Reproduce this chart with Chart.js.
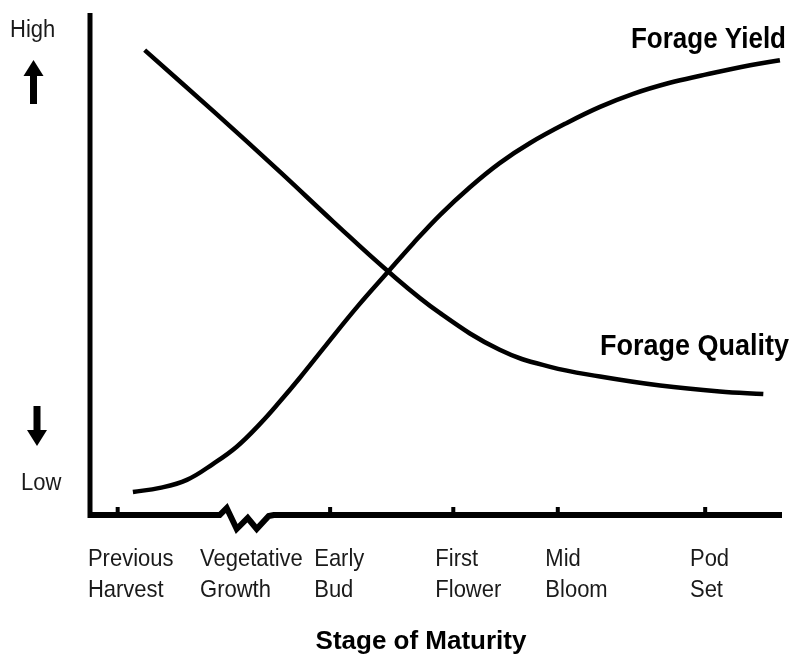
<!DOCTYPE html>
<html>
<head>
<meta charset="utf-8">
<script src="https://cdn.jsdelivr.net/npm/chart.js@4.4.0/dist/chart.umd.min.js"></script>
<style>
  html, body { margin: 0; padding: 0; background: #fff; }
  #wrap { width: 792px; height: 658px; }
</style>
</head>
<body>
<div id="wrap"><canvas id="chart"></canvas></div>
<script>
// values on a 0-100 scale for both axes (relative stage / relative level)
const yieldX = [6.2, 10.1, 14.0, 17.8, 21.2, 24.6, 27.5, 30.3, 34.2, 38.7, 43.1, 46.7, 50.6, 54.9, 59.2, 63.6, 68.9, 73.7, 78.5, 83.8, 88.2, 95.4, 99.7];
const yieldY = [4.6, 5.4, 7.0, 10.2, 13.6, 18.2, 22.7, 27.3, 34.0, 41.6, 48.5, 54.1, 59.8, 65.3, 70.1, 74.1, 78.1, 81.3, 83.9, 86.1, 87.5, 89.6, 90.6];

const qualityX = [7.9, 18.1, 27.5, 35.1, 43.1, 50.6, 59.2, 66.5, 73.7, 82.4, 91.0, 97.3];
const qualityY = [92.6, 80.1, 68.3, 58.5, 48.5, 40.2, 32.9, 29.5, 27.6, 25.8, 24.6, 24.1];

// stage labels, tick marks and the axis break
const stageLabels = [["Previous", "Harvest"], ["Vegetative", "Growth"], ["Early", "Bud"], ["First", "Flower"], ["Mid", "Bloom"], ["Pod", "Set"]];
const stageLabelX = [-0.3, 15.9, 32.4, 49.9, 65.8, 86.7];
const stageTicks = [4.0, 34.7, 52.5, 67.6, 88.9];
const axisBreakX = 22.5;

const seriesNames = ["Forage Yield", "Forage Quality"];
const levelLabels = ["High", "Low"];
const xTitle = "Stage of Maturity";

function toPoints(xs, ys) {
  return xs.map((x, i) => ({ x: x, y: ys[i] }));
}

// text slightly taller than the plain font, like the original artwork
function tallText(ctx, text, x, y, stretch) {
  ctx.save();
  ctx.translate(x, y);
  ctx.scale(1, stretch);
  ctx.fillText(text, 0, 0);
  ctx.restore();
}

function arrow(ctx, cx, tip, tail, up) {
  const dir = up ? 1 : -1;
  const headLen = 16;
  ctx.fillRect(cx - 3.5, Math.min(tip + dir * headLen, tail) - 1, 7, Math.abs(tail - tip) - headLen + 2);
  ctx.beginPath();
  ctx.moveTo(cx, tip);
  ctx.lineTo(cx + 10, tip + dir * headLen);
  ctx.lineTo(cx - 10, tip + dir * headLen);
  ctx.closePath();
  ctx.fill();
}

const drawing = {
  id: "drawing",
  beforeDatasetsDraw(chart) {
    const ctx = chart.ctx;
    const x = chart.scales.x;
    const area = chart.chartArea;
    const base = area.bottom;
    ctx.save();
    ctx.strokeStyle = "#000";
    ctx.fillStyle = "#000";
    ctx.lineCap = "butt";

    // y axis
    ctx.lineWidth = 5;
    ctx.beginPath();
    ctx.moveTo(area.left, area.top);
    ctx.lineTo(area.left, base + 3);
    ctx.stroke();

    // x axis with break
    const bx = x.getPixelForValue(axisBreakX);
    ctx.lineWidth = 6;
    ctx.lineJoin = "miter";
    ctx.beginPath();
    ctx.moveTo(area.left, base);
    ctx.lineTo(bx - 26, base);
    ctx.lineTo(bx - 19, base - 7);
    ctx.lineTo(bx - 9, base + 14);
    ctx.lineTo(bx + 2, base + 3);
    ctx.lineTo(bx + 11, base + 14);
    ctx.lineTo(bx + 23, base + 1);
    ctx.lineTo(bx + 28, base);
    ctx.lineTo(area.right, base);
    ctx.stroke();

    // small tick marks above the axis
    stageTicks.forEach(v => {
      const px = x.getPixelForValue(v);
      ctx.fillRect(px - 2, base - 8, 4, 8);
    });

    // x labels
    ctx.font = '22px "Liberation Sans", Arial, sans-serif';
    ctx.fillStyle = "#1a1a1a";
    ctx.textAlign = "left";
    ctx.textBaseline = "alphabetic";
    stageLabels.forEach((lines, i) => {
      const px = x.getPixelForValue(stageLabelX[i]);
      lines.forEach((t, j) => tallText(ctx, t, px, base + 51 + j * 31, 1.1));
    });

    // axis title
    ctx.font = 'bold 26px "Liberation Sans", Arial, sans-serif';
    ctx.fillStyle = "#000";
    ctx.textAlign = "center";
    ctx.fillText(xTitle, (area.left + area.right) / 2 - 15, base + 134);

    // High / Low with arrows
    ctx.font = '22px "Liberation Sans", Arial, sans-serif';
    ctx.fillStyle = "#1a1a1a";
    ctx.textAlign = "left";
    tallText(ctx, levelLabels[0], 10, 37, 1.1);
    tallText(ctx, levelLabels[1], 21, 490, 1.1);

    ctx.fillStyle = "#000";
    arrow(ctx, 33.5, 60, 103, true);
    arrow(ctx, 37, 446, 407, false);

    ctx.restore();
  },
  afterDatasetsDraw(chart) {
    const ctx = chart.ctx;
    ctx.save();
    ctx.fillStyle = "#000";
    ctx.textAlign = "right";
    ctx.textBaseline = "alphabetic";
    ctx.font = 'bold 26px "Liberation Sans", Arial, sans-serif';
    tallText(ctx, seriesNames[0], 786, 48, 1.12);
    ctx.font = 'bold 27px "Liberation Sans", Arial, sans-serif';
    tallText(ctx, seriesNames[1], 789, 355, 1.1);
    ctx.restore();
  }
};

const ctx = document.getElementById("chart").getContext("2d");

const chart = new Chart(ctx, {
  type: "line",
  data: {
    datasets: [
      {
        label: seriesNames[0],
        data: toPoints(yieldX, yieldY),
        borderColor: "#000",
        borderWidth: 4.5,
        pointRadius: 0,
        tension: 0.4,
        clip: false,
      },
      {
        label: seriesNames[1],
        data: toPoints(qualityX, qualityY),
        borderColor: "#000",
        borderWidth: 4.5,
        pointRadius: 0,
        tension: 0.4,
        clip: false,
      },
    ],
  },
  options: {
    responsive: true,
    maintainAspectRatio: false,
    devicePixelRatio: 1,
    animation: false,
    layout: {
      padding: { left: 90, right: 10, top: 13, bottom: 143 },
    },
    scales: {
      x: { type: "linear", min: 0, max: 100, display: false },
      y: { type: "linear", min: 0, max: 100, display: false },
    },
    plugins: {
      legend: { display: false },
      tooltip: { enabled: false },
    },
  },
  plugins: [drawing],
});
</script>
</body>
</html>
